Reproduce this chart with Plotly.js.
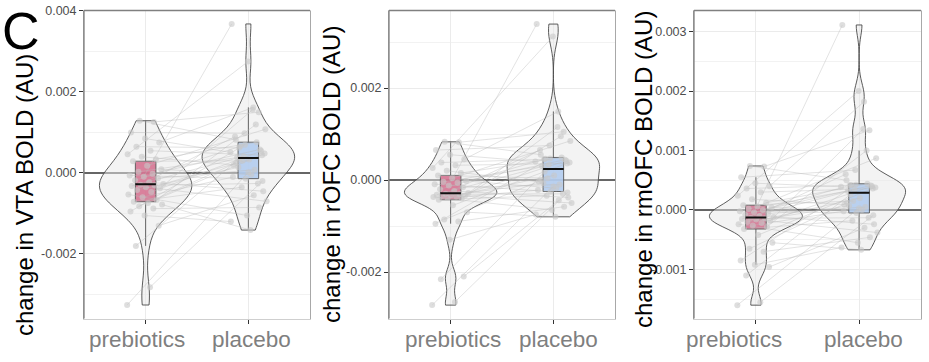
<!DOCTYPE html>
<html><head><meta charset="utf-8">
<script src="https://cdn.plot.ly/plotly-3.0.1.min.js"></script>
<style>html,body{margin:0;padding:0;background:#fff}#chart{width:929px;height:362px}</style>
</head><body><div id="chart"></div>
<script>
// ---- data ----
const groups = ['prebiotics', 'placebo'];
const yTitles = ['change in VTA BOLD (AU)', 'change in rOFC BOLD (AU)', 'change in rmOFC BOLD (AU)'];
const panelLetter = 'C';

// each index = one participant (paired values)
const vtaPrebiotics = [-0.00326, -0.00282, -0.00180, -0.00130, -0.00105, -0.00095, -0.00088, -0.00082, -0.00078, -0.00074, -0.00071, -0.00067, -0.00060, -0.00053, -0.00047, -0.00042, -0.00038, -0.00035, -0.00032, -0.00030, -0.00029, -0.00027, -0.00023, -0.00018, -0.00013, -0.00009, -0.00006, -0.00002, 0.00003, 0.00009, 0.00018, 0.00029, 0.00034, 0.00040, 0.00046, 0.00055, 0.00065, 0.00075, 0.00085, 0.00100, 0.00126, 0.00129];
const vtaPlacebo = [0.00002, -0.00020, 0.00036, -0.00055, -0.00120, 0.00070, -0.00085, 0.00025, -0.00141, 0.00048, -0.00035, 0.00120, -0.00010, -0.00105, 0.00054, 0.00014, 0.00156, -0.00070, 0.00041, -0.00026, 0.00090, 0.00033, -0.00045, 0.00066, 0.00008, 0.00368, -0.00014, 0.00058, 0.00038, -0.00004, 0.00108, 0.00030, 0.00076, 0.00020, 0.00275, 0.00044, 0.00062, 0.00162, 0.00051, 0.00098, 0.00150, 0.00082];

const rofcPrebiotics = [-0.00272, -0.00265, -0.00216, -0.00210, -0.00130, -0.00095, -0.00090, -0.00086, -0.00070, -0.00055, -0.00043, -0.00040, -0.00039, -0.00037, -0.00036, -0.00035, -0.00034, -0.00033, -0.00032, -0.00031, -0.00030, -0.00028, -0.00024, -0.00020, -0.00016, -0.00012, -0.00009, -0.00006, -0.00004, -0.00002, 0.00004, 0.00010, 0.00015, 0.00020, 0.00026, 0.00032, 0.00038, 0.00045, 0.00055, 0.00065, 0.00082, 0.00083];
const rofcPlacebo = [-0.00014, -0.00027, 0.00018, -0.00044, -0.00075, 0.00047, -0.00058, -0.00001, -0.00080, 0.00038, -0.00034, 0.00095, -0.00022, -0.00065, 0.00042, -0.00007, 0.00115, -0.00050, 0.00033, -0.00030, 0.00065, 0.00010, -0.00038, 0.00046, -0.00010, 0.00339, -0.00025, 0.00044, 0.00030, -0.00018, 0.00085, 0.00004, 0.00049, -0.00004, 0.00312, 0.00036, 0.00045, 0.00149, 0.00040, 0.00075, 0.00105, 0.00055];

const rmofcPrebiotics = [-0.00160, -0.00155, -0.00110, -0.00096, -0.00092, -0.00085, -0.00070, -0.00065, -0.00055, -0.00042, -0.00032, -0.00028, -0.00026, -0.00024, -0.00022, -0.00020, -0.00018, -0.00016, -0.00015, -0.00014, -0.00013, -0.00012, -0.00010, -0.00008, -0.00006, -0.00004, -0.00002, 0.00000, 0.00002, 0.00004, 0.00006, 0.00008, 0.00012, 0.00018, 0.00024, 0.00030, 0.00036, 0.00040, 0.00045, 0.00055, 0.00073, 0.00074];
const rmofcPlacebo = [0.00003, -0.00009, 0.00026, -0.00030, -0.00063, 0.000425, -0.00046, 0.00012, -0.00067, 0.00038, -0.00018, 0.00100, -0.00002, -0.00055, 0.00040, 0.00007, 0.00136, -0.00038, 0.00034, -0.00013, 0.00060, 0.00020, -0.00024, 0.00042, 0.00005, 0.00311, -0.00005, 0.00041, 0.00032, 0.00000, 0.00087, 0.00015, 0.00044, 0.00009, 0.00200, 0.00036, 0.000415, 0.00182, 0.00039, 0.00067, 0.00134, 0.00050];

const panels = [
  {pre: vtaPrebiotics, pla: vtaPlacebo},
  {pre: rofcPrebiotics, pla: rofcPlacebo},
  {pre: rmofcPrebiotics, pla: rmofcPlacebo}
];

// ---- layout / style ----
const W = 929, H = 362;
const FONT = 'Liberation Sans, Arial, sans-serif';
const xDomPx = [[84, 310], [389, 615], [694, 921]];
const yDomPx = [10.5, 318.5];
const yRanges = [[-0.003593, 0.004012], [-0.003011, 0.003685], [-0.001824, 0.003353]];
const yDticks = [0.002, 0.002, 0.001];
const titlePos = [[24, 195], [332, 175], [643, 170]];
const xLabelShift = [[-9, 3], [2, 5], [-22, 4]];
const boxFill = ['rgba(212,108,140,0.85)', 'rgba(176,203,238,0.88)'];

function jitterPre(i) { return (((i * 0.6180339887) % 1) - 0.5) * 0.36; }
function jitterPla(i) { return ((((i * 0.3819660113) + 0.5) % 1) - 0.5) * 0.36; }
function median(a) {
  const s = a.slice().sort((p, q) => p - q);
  const n = s.length, m = (n - 1) / 2;
  return (s[Math.floor(m)] + s[Math.ceil(m)]) / 2;
}
function tickSet(range, dt) {
  const vals = [], txt = [];
  for (let v = Math.ceil(range[0] / dt) * dt; v <= range[1] + 1e-12; v += dt) {
    const r = Math.round(v / dt) * dt;
    vals.push(r);
    txt.push(Math.abs(r) < 1e-12 ? '0.000' : r.toFixed(3));
  }
  return {vals, txt};
}

const traces = [];
const layout = {
  width: W, height: H,
  margin: {l: 0, r: 0, t: 0, b: 0},
  paper_bgcolor: '#fff', plot_bgcolor: '#fff',
  showlegend: false,
  violinmode: 'overlay', boxmode: 'overlay',
  font: {family: FONT},
  shapes: [], annotations: []
};

panels.forEach((p, k) => {
  const sfx = k === 0 ? '' : String(k + 1);
  const xa = 'x' + sfx, ya = 'y' + sfx;
  const series = [p.pre, p.pla];

  series.forEach((vals, g) => {
    traces.push({
      type: 'violin', x0: g, y: vals, xaxis: xa, yaxis: ya,
      spanmode: 'hard', width: 0.9, scalemode: 'width',
      points: false, box: {visible: false}, meanline: {visible: false},
      fillcolor: 'rgba(232,232,232,0.5)', line: {color: '#4a4a4a', width: 0.9},
      hoverinfo: 'skip'
    });
  });

  // paired lines
  const lx = [], ly = [];
  p.pre.forEach((v, i) => {
    lx.push(0 + jitterPre(i), 1 + jitterPla(i), null);
    ly.push(v, p.pla[i], null);
  });
  traces.push({
    type: 'scatter', mode: 'lines', x: lx, y: ly, xaxis: xa, yaxis: ya,
    line: {color: 'rgba(185,185,185,0.5)', width: 0.8}, hoverinfo: 'skip'
  });
  // points
  series.forEach((vals, g) => {
    traces.push({
      type: 'scatter', mode: 'markers',
      x: vals.map((v, i) => g + (g === 0 ? jitterPre(i) : jitterPla(i))), y: vals,
      xaxis: xa, yaxis: ya,
      marker: {color: 'rgba(200,200,200,0.6)', size: 6, line: {width: 0}},
      hoverinfo: 'skip'
    });
  });
  // boxes
  series.forEach((vals, g) => {
    traces.push({
      type: 'box', x0: g, y: vals, xaxis: xa, yaxis: ya, width: 0.2,
      fillcolor: boxFill[g], line: {color: '#555', width: 0.9}, whiskerwidth: 0,
      boxpoints: 'outliers', marker: {opacity: 0, size: 1}, hoverinfo: 'skip'
    });
    const md = median(vals);
    traces.push({
      type: 'scatter', mode: 'lines', x: [g - 0.1, g + 0.1], y: [md, md],
      xaxis: xa, yaxis: ya, line: {color: '#111', width: 2}, hoverinfo: 'skip'
    });
  });

  const ts = tickSet(yRanges[k], yDticks[k]);
  layout['xaxis' + sfx] = {
    domain: [xDomPx[k][0] / W, xDomPx[k][1] / W], anchor: ya,
    range: [-0.6, 1.6], tickvals: [0, 1], ticktext: groups, showticklabels: false,
    ticks: 'outside', ticklen: 4, tickwidth: 1, tickcolor: '#333',
    showgrid: true, gridcolor: '#ebebeb', gridwidth: 1,
    zeroline: false, showline: true, mirror: true, linecolor: '#cfcfcf', linewidth: 1,
    fixedrange: true
  };
  layout['yaxis' + sfx] = {
    domain: [1 - yDomPx[1] / H, 1 - yDomPx[0] / H], anchor: xa,
    range: yRanges[k], tickmode: 'array', tickvals: ts.vals, ticktext: ts.txt,
    ticks: 'outside', ticklen: 4, tickwidth: 1, tickcolor: '#333',
    showline: true, mirror: true, linecolor: '#a8a8a8', linewidth: 1,
    showgrid: true, gridcolor: '#ebebeb', gridwidth: 1,
    minor: {dtick: yDticks[k] / 2, tick0: 0, showgrid: true, gridcolor: '#f2f2f2', gridwidth: 1},
    zeroline: true, zerolinecolor: '#666', zerolinewidth: 1.2, fixedrange: true,
    tickfont: {size: 12.5, color: '#4d4d4d', family: FONT}
  };
  layout.shapes.push({
    type: 'line', xref: xa + ' domain', yref: ya + ' domain',
    x0: 0, x1: 1, y0: 1, y1: 1, line: {color: '#808080', width: 1.3}
  });
  layout.shapes.push({
    type: 'line', xref: xa + ' domain', yref: ya + ' domain',
    x0: 0, x1: 0, y0: 0, y1: 1, line: {color: '#808080', width: 1.3}
  });
  layout.annotations.push({
    text: yTitles[k], textangle: -90, showarrow: false,
    xref: 'paper', yref: 'paper',
    x: titlePos[k][0] / W, y: 1 - titlePos[k][1] / H,
    xanchor: 'center', yanchor: 'middle',
    font: {size: 24, color: '#000', family: FONT}
  });
  groups.forEach((gname, g) => {
    layout.annotations.push({
      text: gname, showarrow: false, xref: xa, yref: 'paper',
      x: g, y: 1 - 339 / H, xanchor: 'center', yanchor: 'middle',
      xshift: xLabelShift[k][g],
      font: {size: 22.5, color: '#7f7f7f', family: FONT}
    });
  });
});

layout.annotations.push({
  text: panelLetter, showarrow: false, xref: 'paper', yref: 'paper',
  x: 20.5 / W, y: 1, xanchor: 'center', yanchor: 'top',
  font: {size: 52, color: '#000', family: FONT}
});

Plotly.newPlot('chart', traces, layout, {displayModeBar: false, staticPlot: true});
</script>
</body></html>
